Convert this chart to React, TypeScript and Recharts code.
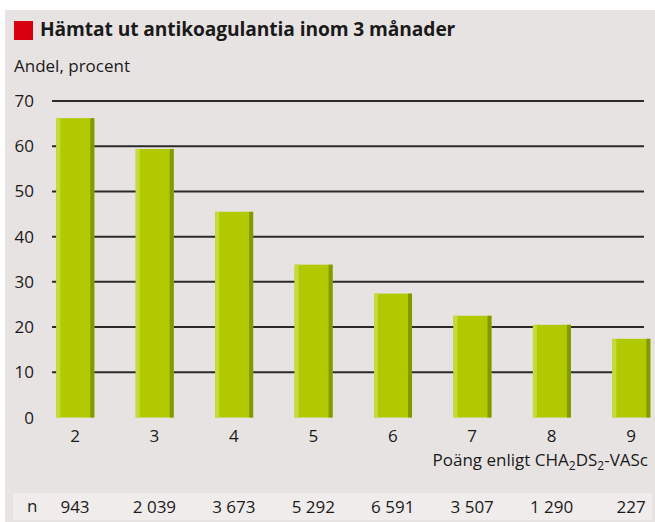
import { BarChart, Bar, XAxis, YAxis, CartesianGrid } from 'recharts'

const SCORES = [2, 3, 4, 5, 6, 7, 8, 9]
const SHARE = [66.2, 59.4, 45.5, 33.8, 27.4, 22.5, 20.5, 17.4]
const COUNTS = ['943', '2 039', '3 673', '5 292', '6 591', '3 507', '1 290', '227']
const Y_TICKS = [0, 10, 20, 30, 40, 50, 60, 70]
const GRID_VALUES = [10, 20, 30, 40, 50, 60, 70]

const data = SCORES.map((score, i) => ({ score, share: SHARE[i], n: COUNTS[i] }))

const BG = '#e8e3e3'
const BAND = '#f0ecec'
const TEXT = '#1a1a1a'
const FONT = '"Open Sans", Roboto, sans-serif'

const GreenBar = (props: any) => {
  const { x, y, width, height } = props
  if (!height || height <= 0) return null
  return (
    <g>
      <rect x={x} y={y} width={width} height={height} fill="#b1c900" />
      <rect x={x} y={y} width={4} height={height} fill="#c5da3c" />
      <rect x={x + width - 4} y={y} width={4} height={height} fill="#809a00" />
    </g>
  )
}

const ScoreTick = (props: any) => {
  const { x, y, payload } = props
  const idx = SCORES.indexOf(payload.value)
  return (
    <g>
      <text x={x} y={y} dy="0.71em" textAnchor="middle" fontSize={17} fill={TEXT} fontFamily={FONT}>
        {payload.value}
      </text>
      <text x={x} y={y + 83} textAnchor="middle" fontSize={17} fill={TEXT} fontFamily={FONT}>
        {COUNTS[idx]}
      </text>
    </g>
  )
}

export default function App() {
  return (
    <div style={{ position: 'absolute', left: 0, top: 0, width: 655, height: 522, background: '#fff', overflow: 'hidden' }}>
      <div style={{ position: 'absolute', left: 5, top: 10, width: 650, height: 512, background: BG }} />
      <div style={{ position: 'absolute', left: 13, top: 493, width: 639, height: 27, background: BAND }} />
      <div style={{ position: 'absolute', left: 14, top: 21, width: 19, height: 19, background: '#d7000f' }} />
      <div
        style={{
          position: 'absolute', left: 40, top: 16, fontFamily: FONT, fontWeight: 700,
          fontSize: 19.2, lineHeight: '26px', color: TEXT, whiteSpace: 'nowrap', letterSpacing: -0.1,
        }}
      >
        Hämtat ut antikoagulantia inom 3 månader
      </div>
      <div
        style={{
          position: 'absolute', left: 14, top: 55, fontFamily: FONT, fontSize: 17,
          lineHeight: '22px', color: TEXT, whiteSpace: 'nowrap',
        }}
      >
        Andel, procent
      </div>
      <div
        style={{
          position: 'absolute', right: 7, top: 449, fontFamily: FONT, fontSize: 17,
          lineHeight: '22px', color: TEXT, whiteSpace: 'nowrap',
        }}
      >
        Poäng enligt CHA<sub style={{ fontSize: 12 }}>2</sub>DS<sub style={{ fontSize: 12 }}>2</sub>-VASc
      </div>
      <div
        style={{
          position: 'absolute', left: 27, top: 495, fontFamily: FONT, fontSize: 17,
          lineHeight: '22px', color: TEXT,
        }}
      >
        n
      </div>
      <div style={{ position: 'absolute', left: 0, top: 0 }}>
        <BarChart
          width={655}
          height={522}
          data={data}
          margin={{ top: 101, right: 11, left: 12, bottom: 0 }}
        >
          <CartesianGrid
            horizontal
            vertical={false}
            horizontalValues={GRID_VALUES}
            stroke="#2a2a2a"
            strokeWidth={2}
          />
          <XAxis
            dataKey="score"
            type="number"
            domain={[1.7104, 9.163]}
            ticks={SCORES}
            axisLine={false}
            tickLine={false}
            tickSize={0}
            tickMargin={12.5}
            height={104.5}
            tick={<ScoreTick />}
            interval={0}
            allowDecimals={false}
          />
          <YAxis
            domain={[0, 70]}
            ticks={Y_TICKS}
            width={40}
            axisLine={false}
            tickLine={false}
            tickSize={0}
            tickMargin={18}
            tick={{ fontSize: 17, fill: TEXT, fontFamily: FONT }}
          />
          <Bar dataKey="share" barSize={38} shape={<GreenBar />} isAnimationActive={false} />
        </BarChart>
      </div>
    </div>
  )
}
